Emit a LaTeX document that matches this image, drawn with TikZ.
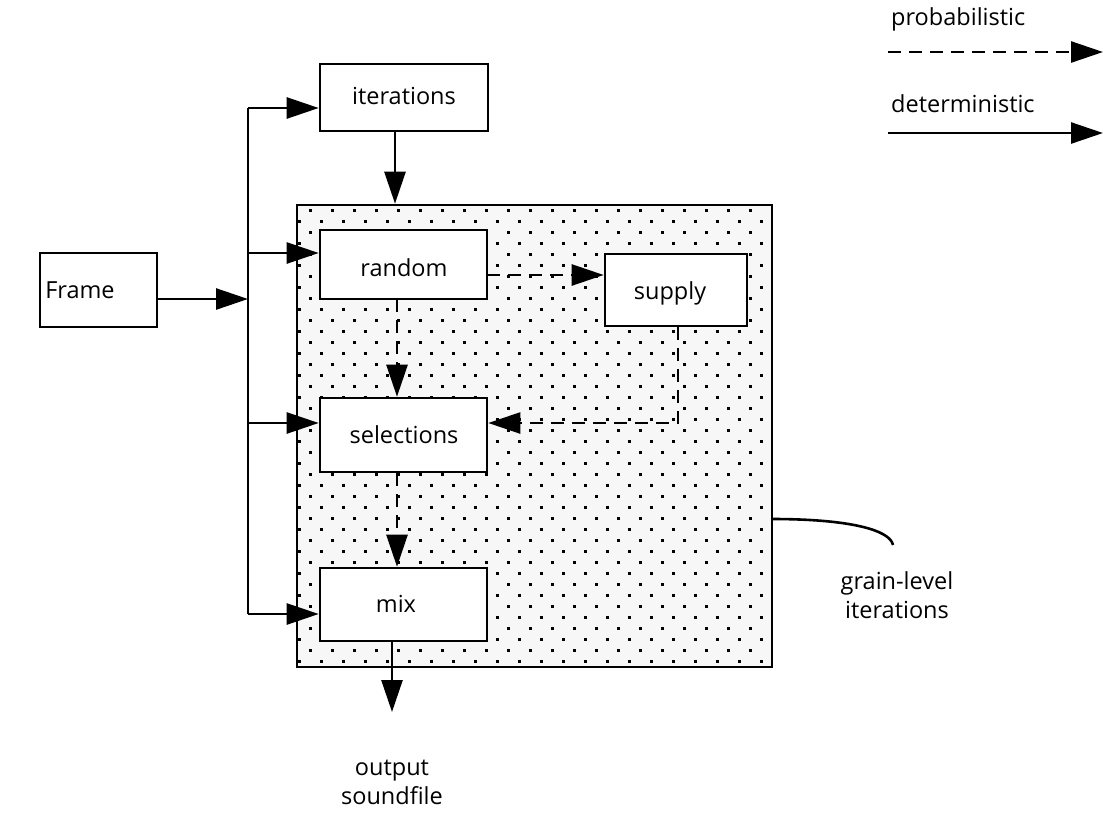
\documentclass[tikz,border=0pt]{standalone}
\usepackage{fontspec}
\setmainfont{Open Sans}
\usetikzlibrary{arrows.meta,calc}
\begin{document}
\begin{tikzpicture}[x=1pt,y=-1pt,
  box/.style={draw,line width=2.6pt,fill=white,inner sep=0pt},
  lbl/.style={font=\fontsize{23.5}{28}\selectfont,inner sep=0pt,anchor=base},
  det/.style={line width=2.6pt,-{Triangle[length=32pt,width=21pt]}},
  prob/.style={det,dash pattern=on 13pt off 8pt},
  plain/.style={line width=2.6pt}]
\useasboundingbox (0,0) rectangle (1103,820);
% grain-level box
\node[draw,line width=2.6pt,fill=gray!6,minimum width=475pt,minimum height=462pt,inner sep=0pt] (grain) at (534.5,436) {};
\begin{scope}
\clip (297,205) rectangle (772,667);
\foreach \r in {0,...,42}{
  \pgfmathsetmacro{\yy}{209+11*\r}
  \pgfmathsetmacro{\off}{mod(\r,2)*11}
  \foreach \c in {0,...,22}{
    \fill ($(287+\off+22*\c,\yy)$) rectangle ++(2.6,2.6);
  }
}
\end{scope}
% boxes
\node[box,minimum width=168pt,minimum height=67pt] (iter) at (404,97.5) {};
\node[box,minimum width=167pt,minimum height=69pt] (random) at (403.5,264.5) {};
\node[box,minimum width=142pt,minimum height=72pt] (supply) at (676,290) {};
\node[box,minimum width=167pt,minimum height=74pt] (sel) at (403.5,435) {};
\node[box,minimum width=167pt,minimum height=73pt] (mix) at (403.5,604.5) {};
\node[box,minimum width=117pt,minimum height=74pt] (frame) at (98.5,290) {};
% labels
\node[lbl] (titer) at (404,104) {iterations};
\node[lbl] (trandom) at (404,276) {random};
\node[lbl] (tsupply) at (670,299) {supply};
\node[lbl] (tsel) at (404,443) {selections};
\node[lbl] (tmix) at (396,612) {mix};
\node[lbl] (tframe) at (80,298) {Frame};
\node[lbl] (tout1) at (392,775) {output};
\node[lbl] (tout2) at (392,804) {soundfile};
\node[lbl] (tgl1) at (897,589) {grain-level};
\node[lbl] (tgl2) at (897,618) {iterations};
\node[lbl,anchor=base west] (tprob) at (891,25) {probabilistic};
\node[lbl,anchor=base west] (tdet) at (891,112) {deterministic};
% bus
\coordinate (bf) at (248,299);
\coordinate (btop) at (248,108);
\coordinate (bbot) at (248,614);
\coordinate (brand) at (248,253);
\coordinate (bsel) at (248,423);
\draw[plain] (btop) -- (bbot);
\draw[det] (frame.east |- bf) -- (bf);
\draw[det] (btop) -- (iter.west |- btop);
\draw[det] (brand) -- (random.west |- brand);
\draw[det] (bsel) -- (sel.west |- bsel);
\draw[det] (bbot) -- (mix.west |- bbot);
% iterations to grain box
\coordinate (ig) at (395,131);
\draw[det] (ig) -- (ig |- grain.north);
% probabilistic links
\coordinate (rs) at (487,275);
\draw[prob] (rs) -- (supply.west |- rs);
\coordinate (rx) at (397,299);
\draw[prob] (rx) -- (rx |- sel.north);
\draw[prob] (rx |- sel.south) -- (rx |- mix.north);
\coordinate (sc) at (678,423);
\draw[prob] (sc |- supply.south) -- (sc) -- (sel.east |- sc);
% output
\coordinate (mo) at (392,641);
\coordinate (oend) at (392,712);
\draw[det] (mo) -- (oend);
% grain-level pointer
\coordinate (gp) at (772,519);
\coordinate (gq) at (893,545);
\draw[plain] (gp) .. controls (850,519) and (890,530) .. (gq);
% legend
\coordinate (l1a) at (888,52);
\coordinate (l1b) at (1103,52);
\coordinate (l2a) at (888,133);
\coordinate (l2b) at (1103,133);
\draw[prob] (l1a) -- (l1b);
\draw[det] (l2a) -- (l2b);
\end{tikzpicture}
\end{document}
